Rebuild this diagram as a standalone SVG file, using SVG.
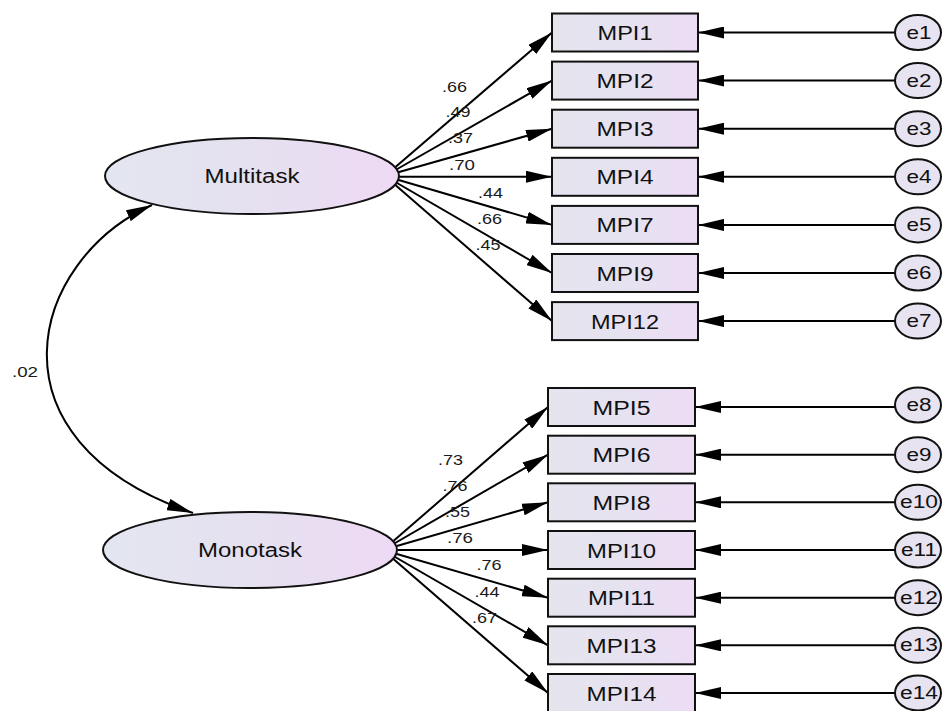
<svg xmlns="http://www.w3.org/2000/svg" width="945" height="711" viewBox="0 0 945 711">
<defs>
<linearGradient id="gBox" x1="0" y1="0" x2="1" y2="0">
<stop offset="0" stop-color="#e5e5ee"/><stop offset="0.5" stop-color="#e6e2f0"/><stop offset="1" stop-color="#eddcf6"/>
</linearGradient>
<linearGradient id="gEll" x1="0" y1="0" x2="1" y2="0">
<stop offset="0" stop-color="#e3e6f0"/><stop offset="0.55" stop-color="#e6e0f0"/><stop offset="1" stop-color="#eed9f4"/>
</linearGradient>
<marker id="ah" viewBox="0 0 26 12" refX="26" refY="6" markerWidth="26" markerHeight="12" markerUnits="userSpaceOnUse" orient="auto-start-reverse">
<path d="M0,0 L26,6 L0,12 z" fill="#000"/>
</marker>
<style>
.ln{stroke:#000;stroke-width:2;fill:none;marker-end:url(#ah)}
.box{fill:url(#gBox);stroke:#111;stroke-width:2}
.ell{fill:url(#gEll);stroke:#111;stroke-width:2}
.err{fill:#e8e3f0;stroke:#111;stroke-width:2}
text{font-family:"Liberation Sans",Arial,sans-serif;fill:#111;text-anchor:middle}
.bl{font-size:20px}
.el{font-size:20px}
.er{font-size:18px}
.cf{font-size:15px;fill:#1a1a1a}
</style>
</defs>
<g id="connectors">
<path class="ln" d="M152,205 C30,260 -20,440 193,513" style="marker-start:url(#ah)"/>
<line class="ln" x1="385" y1="176" x2="552" y2="32.5"/>
<line class="ln" x1="385" y1="176" x2="552" y2="80.6"/>
<line class="ln" x1="385" y1="176" x2="552" y2="128.7"/>
<line class="ln" x1="385" y1="176.8" x2="552" y2="176.8"/>
<line class="ln" x1="385" y1="176" x2="552" y2="224.9"/>
<line class="ln" x1="385" y1="176" x2="552" y2="273"/>
<line class="ln" x1="385" y1="176" x2="552" y2="321.1"/>
<line class="ln" x1="383" y1="550" x2="548" y2="407"/>
<line class="ln" x1="383" y1="550" x2="548" y2="454.7"/>
<line class="ln" x1="383" y1="550" x2="548" y2="502.3"/>
<line class="ln" x1="383" y1="550" x2="548" y2="550"/>
<line class="ln" x1="383" y1="550" x2="548" y2="597.7"/>
<line class="ln" x1="383" y1="550" x2="548" y2="645.3"/>
<line class="ln" x1="383" y1="550" x2="548" y2="693"/>
<line class="ln" x1="895" y1="32.5" x2="698" y2="32.5"/>
<line class="ln" x1="895" y1="80.6" x2="698" y2="80.6"/>
<line class="ln" x1="895" y1="128.7" x2="698" y2="128.7"/>
<line class="ln" x1="895" y1="176.8" x2="698" y2="176.8"/>
<line class="ln" x1="895" y1="224.9" x2="698" y2="224.9"/>
<line class="ln" x1="895" y1="273" x2="698" y2="273"/>
<line class="ln" x1="895" y1="321.1" x2="698" y2="321.1"/>
<line class="ln" x1="895" y1="407" x2="695" y2="407"/>
<line class="ln" x1="895" y1="454.7" x2="695" y2="454.7"/>
<line class="ln" x1="895" y1="502.3" x2="695" y2="502.3"/>
<line class="ln" x1="895" y1="550" x2="695" y2="550"/>
<line class="ln" x1="895" y1="597.7" x2="695" y2="597.7"/>
<line class="ln" x1="895" y1="645.3" x2="695" y2="645.3"/>
<line class="ln" x1="895" y1="693" x2="695" y2="693"/>
<g id="coefs">
<text class="cf" x="25" y="377" textLength="26" lengthAdjust="spacingAndGlyphs">.02</text>
<text class="cf" x="454.5" y="92" textLength="25" lengthAdjust="spacingAndGlyphs">.66</text>
<text class="cf" x="458" y="117" textLength="25" lengthAdjust="spacingAndGlyphs">.49</text>
<text class="cf" x="460.5" y="143" textLength="25" lengthAdjust="spacingAndGlyphs">.37</text>
<text class="cf" x="462" y="170" textLength="26" lengthAdjust="spacingAndGlyphs">.70</text>
<text class="cf" x="490.5" y="198" textLength="25" lengthAdjust="spacingAndGlyphs">.44</text>
<text class="cf" x="489.5" y="224" textLength="25" lengthAdjust="spacingAndGlyphs">.66</text>
<text class="cf" x="488" y="250" textLength="25" lengthAdjust="spacingAndGlyphs">.45</text>
<text class="cf" x="450.5" y="465" textLength="25" lengthAdjust="spacingAndGlyphs">.73</text>
<text class="cf" x="455" y="491" textLength="25" lengthAdjust="spacingAndGlyphs">.76</text>
<text class="cf" x="457.5" y="517" textLength="25" lengthAdjust="spacingAndGlyphs">.55</text>
<text class="cf" x="460" y="543" textLength="26" lengthAdjust="spacingAndGlyphs">.76</text>
<text class="cf" x="489" y="570" textLength="25" lengthAdjust="spacingAndGlyphs">.76</text>
<text class="cf" x="487" y="597" textLength="25" lengthAdjust="spacingAndGlyphs">.44</text>
<text class="cf" x="484.5" y="623" textLength="25" lengthAdjust="spacingAndGlyphs">.67</text>
</g>
</g>
<g id="Multitask"><ellipse class="ell" cx="252" cy="176" rx="147" ry="38"/><text class="el" x="252" y="183" textLength="95" lengthAdjust="spacingAndGlyphs">Multitask</text></g>
<g id="Monotask"><ellipse class="ell" cx="250" cy="550" rx="147" ry="38"/><text class="el" x="250" y="557" textLength="104" lengthAdjust="spacingAndGlyphs">Monotask</text></g>
<g id="MPI1"><rect class="box" x="552" y="13.5" width="146" height="38"/><text class="bl" x="625" y="40" textLength="55" lengthAdjust="spacingAndGlyphs">MPI1</text></g>
<g id="MPI2"><rect class="box" x="552" y="61.6" width="146" height="38"/><text class="bl" x="625" y="88.1" textLength="57" lengthAdjust="spacingAndGlyphs">MPI2</text></g>
<g id="MPI3"><rect class="box" x="552" y="109.7" width="146" height="38"/><text class="bl" x="625" y="136.2" textLength="57" lengthAdjust="spacingAndGlyphs">MPI3</text></g>
<g id="MPI4"><rect class="box" x="552" y="157.8" width="146" height="38"/><text class="bl" x="625" y="184.3" textLength="57" lengthAdjust="spacingAndGlyphs">MPI4</text></g>
<g id="MPI7"><rect class="box" x="552" y="205.9" width="146" height="38"/><text class="bl" x="625" y="232.4" textLength="57" lengthAdjust="spacingAndGlyphs">MPI7</text></g>
<g id="MPI9"><rect class="box" x="552" y="254" width="146" height="38"/><text class="bl" x="625" y="280.5" textLength="57" lengthAdjust="spacingAndGlyphs">MPI9</text></g>
<g id="MPI12"><rect class="box" x="552" y="302.1" width="146" height="38"/><text class="bl" x="625" y="328.6" textLength="68" lengthAdjust="spacingAndGlyphs">MPI12</text></g>
<g id="MPI5"><rect class="box" x="548" y="388" width="147" height="38"/><text class="bl" x="621.5" y="414.5" textLength="58" lengthAdjust="spacingAndGlyphs">MPI5</text></g>
<g id="MPI6"><rect class="box" x="548" y="435.7" width="147" height="38"/><text class="bl" x="621.5" y="462.2" textLength="58" lengthAdjust="spacingAndGlyphs">MPI6</text></g>
<g id="MPI8"><rect class="box" x="548" y="483.3" width="147" height="38"/><text class="bl" x="621.5" y="509.8" textLength="58" lengthAdjust="spacingAndGlyphs">MPI8</text></g>
<g id="MPI10"><rect class="box" x="548" y="531" width="147" height="38"/><text class="bl" x="621.5" y="557.5" textLength="69" lengthAdjust="spacingAndGlyphs">MPI10</text></g>
<g id="MPI11"><rect class="box" x="548" y="578.7" width="147" height="38"/><text class="bl" x="621.5" y="605.2" textLength="67" lengthAdjust="spacingAndGlyphs">MPI11</text></g>
<g id="MPI13"><rect class="box" x="548" y="626.3" width="147" height="38"/><text class="bl" x="621.5" y="652.8" textLength="70" lengthAdjust="spacingAndGlyphs">MPI13</text></g>
<g id="MPI14"><rect class="box" x="548" y="674" width="147" height="38"/><text class="bl" x="621.5" y="700.5" textLength="70" lengthAdjust="spacingAndGlyphs">MPI14</text></g>
<g id="e1"><ellipse class="err" cx="918" cy="32.5" rx="23" ry="17.5"/><text class="er" x="919" y="38.5" textLength="25" lengthAdjust="spacingAndGlyphs">e1</text></g>
<g id="e2"><ellipse class="err" cx="918" cy="80.6" rx="23" ry="17.5"/><text class="er" x="919" y="86.6" textLength="25" lengthAdjust="spacingAndGlyphs">e2</text></g>
<g id="e3"><ellipse class="err" cx="918" cy="128.7" rx="23" ry="17.5"/><text class="er" x="919" y="134.7" textLength="25" lengthAdjust="spacingAndGlyphs">e3</text></g>
<g id="e4"><ellipse class="err" cx="918" cy="176.8" rx="23" ry="17.5"/><text class="er" x="919" y="182.8" textLength="25" lengthAdjust="spacingAndGlyphs">e4</text></g>
<g id="e5"><ellipse class="err" cx="918" cy="224.9" rx="23" ry="17.5"/><text class="er" x="919" y="230.9" textLength="25" lengthAdjust="spacingAndGlyphs">e5</text></g>
<g id="e6"><ellipse class="err" cx="918" cy="273" rx="23" ry="17.5"/><text class="er" x="919" y="279" textLength="25" lengthAdjust="spacingAndGlyphs">e6</text></g>
<g id="e7"><ellipse class="err" cx="918" cy="321.1" rx="23" ry="17.5"/><text class="er" x="919" y="327.1" textLength="25" lengthAdjust="spacingAndGlyphs">e7</text></g>
<g id="e8"><ellipse class="err" cx="918" cy="405" rx="23" ry="17.5"/><text class="er" x="919" y="411" textLength="25" lengthAdjust="spacingAndGlyphs">e8</text></g>
<g id="e9"><ellipse class="err" cx="918" cy="454.7" rx="23" ry="17.5"/><text class="er" x="919" y="460.7" textLength="25" lengthAdjust="spacingAndGlyphs">e9</text></g>
<g id="e10"><ellipse class="err" cx="918" cy="502.3" rx="23" ry="17.5"/><text class="er" x="919" y="508.3" textLength="38" lengthAdjust="spacingAndGlyphs">e10</text></g>
<g id="e11"><ellipse class="err" cx="918" cy="550" rx="23" ry="17.5"/><text class="er" x="919" y="556" textLength="36" lengthAdjust="spacingAndGlyphs">e11</text></g>
<g id="e12"><ellipse class="err" cx="918" cy="597.7" rx="23" ry="17.5"/><text class="er" x="919" y="603.7" textLength="38" lengthAdjust="spacingAndGlyphs">e12</text></g>
<g id="e13"><ellipse class="err" cx="918" cy="645.3" rx="23" ry="17.5"/><text class="er" x="919" y="651.3" textLength="38" lengthAdjust="spacingAndGlyphs">e13</text></g>
<g id="e14"><ellipse class="err" cx="918" cy="693" rx="23" ry="17.5"/><text class="er" x="919" y="699" textLength="38" lengthAdjust="spacingAndGlyphs">e14</text></g>
</svg>
